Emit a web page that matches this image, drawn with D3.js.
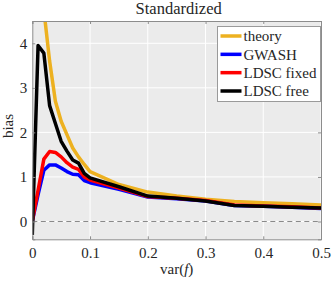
<!DOCTYPE html>
<html>
<head>
<meta charset="utf-8">
<script src="https://cdn.jsdelivr.net/npm/d3@7"></script>
<style>
	body { margin: 0; background: #fff; }
	svg text { font-family: "Liberation Serif", "DejaVu Serif", serif; fill: #262626; }
</style>
</head>
<body>
<svg id="chart" width="332" height="283"></svg>
<script>
//values
var varF = [0, 0.01, 0.02, 0.03, 0.04, 0.05, 0.06, 0.07, 0.08, 0.09, 0.1, 0.15, 0.2, 0.25, 0.3, 0.35, 0.4, 0.45, 0.5];
var theory = [null, 9.0, 4.75, 3.6, 2.7, 2.25, 1.95, 1.65, 1.45, 1.28, 1.12, 0.83, 0.66, 0.57, 0.5, 0.45, 0.42, 0.4, 0.37];
var gwash = [0, 0.6, 1.15, 1.27, 1.27, 1.2, 1.12, 1.06, 1.05, 0.92, 0.87, 0.72, 0.55, 0.51, 0.46, 0.36, 0.34, 0.32, 0.29];
var ldscFixed = [0, 0.7, 1.4, 1.57, 1.55, 1.45, 1.32, 1.22, 1.17, 1.0, 0.93, 0.75, 0.56, 0.52, 0.47, 0.37, 0.35, 0.33, 0.3];
var ldscFree = [-0.3, 3.95, 3.78, 2.6, 2.2, 1.8, 1.58, 1.38, 1.31, 1.08, 0.98, 0.78, 0.57, 0.52, 0.46, 0.36, 0.34, 0.32, 0.3];

var xTicks = [0, 0.1, 0.2, 0.3, 0.4, 0.5];
var yTicks = [0, 1, 2, 3, 4];

var seriesNames = ["theory", "GWASH", "LDSC fixed", "LDSC free"];
var seriesColors = ["#EDB120", "#0000FF", "#FF0000", "#000000"];
var seriesValues = [theory, gwash, ldscFixed, ldscFree];

var serif = "'Liberation Serif', 'DejaVu Serif', serif";
var svg = d3.select("#chart");

//plot box edges (window.top is taken, so no plain "top")
var boxLeft = 32.3, boxRight = 321, boxTop = 21, boxBottom = 239.3;

var x = d3.scaleLinear().domain([0, 0.5]).range([boxLeft, boxRight]);
var y = d3.scaleLinear().domain([-0.4, 4.5]).range([boxBottom, boxTop]);

//grey background
svg.append("rect")
	.attr("x", boxLeft)
	.attr("y", boxTop)
	.attr("width", boxRight - boxLeft)
	.attr("height", boxBottom - boxTop)
	.style("fill", "#EBEBEB");

//white grid
svg.append("g").selectAll("line").data(xTicks).enter().append("line")
	.attr("x1", function(d){ return x(d); })
	.attr("x2", function(d){ return x(d); })
	.attr("y1", boxTop).attr("y2", boxBottom)
	.style("stroke", "#fff").style("stroke-width", 1);
svg.append("g").selectAll("line").data(yTicks).enter().append("line")
	.attr("y1", function(d){ return y(d); })
	.attr("y2", function(d){ return y(d); })
	.attr("x1", boxLeft).attr("x2", boxRight)
	.style("stroke", "#fff").style("stroke-width", 1);

//zero reference
svg.append("line")
	.attr("x1", boxLeft).attr("x2", boxRight)
	.attr("y1", y(0)).attr("y2", y(0))
	.style("stroke", "#8a8a8a")
	.style("stroke-width", 1.2)
	.style("stroke-dasharray", "5,3.5");

svg.append("clipPath").attr("id", "plotClip")
	.append("rect")
	.attr("x", boxLeft).attr("y", boxTop)
	.attr("width", boxRight - boxLeft).attr("height", boxBottom - boxTop);

var line = d3.line()
	.defined(function(d){ return d[1] !== null; })
	.x(function(d){ return x(d[0]); })
	.y(function(d){ return y(d[1]); });

var lines = svg.append("g").attr("clip-path", "url(#plotClip)");
for(var i = 0; i < seriesValues.length; i++){
	var pts = varF.map(function(f, j){ return [f, seriesValues[i][j]]; });
	lines.append("path")
		.datum(pts)
		.attr("d", line)
		.style("fill", "none")
		.style("stroke", seriesColors[i])
		.style("stroke-width", 3.5)
		.style("stroke-linejoin", "round");
}

//axes, ticks pointing inwards, box on
var axisColor = "#8c8c8c";
var xAxis = svg.append("g")
	.attr("transform", "translate(0," + boxBottom + ")")
	.call(d3.axisBottom(x).tickValues(xTicks).tickSize(-3).tickPadding(8)
		.tickFormat(function(d){ return d === 0 ? "0" : d3.format(".1f")(d); }));
var xAxisTop = svg.append("g")
	.attr("transform", "translate(0," + boxTop + ")")
	.call(d3.axisTop(x).tickValues(xTicks).tickSize(-3).tickFormat(""));
var yAxis = svg.append("g")
	.attr("transform", "translate(" + boxLeft + ",0)")
	.call(d3.axisLeft(y).tickValues(yTicks).tickSize(-3).tickPadding(5).tickFormat(d3.format("d")));
var yAxisRight = svg.append("g")
	.attr("transform", "translate(" + boxRight + ",0)")
	.call(d3.axisRight(y).tickValues(yTicks).tickSize(-3).tickFormat(""));

[xAxis, xAxisTop, yAxis, yAxisRight].forEach(function(a){
	a.attr("font-family", serif).attr("font-size", 15);
	a.selectAll("path").style("stroke", axisColor);
	a.selectAll("line").style("stroke", axisColor);
	a.selectAll("text").style("fill", "#262626");
});

//title and axis labels
svg.append("text")
	.attr("x", (boxLeft + boxRight) / 2 + 2)
	.attr("y", 14)
	.attr("text-anchor", "middle")
	.style("font-size", "16.5px")
	.text("Standardized");

var xLabel = svg.append("text")
	.attr("x", (boxLeft + boxRight) / 2)
	.attr("y", 274)
	.attr("text-anchor", "middle")
	.style("font-size", "15px");
xLabel.append("tspan").text("var(");
xLabel.append("tspan").style("font-style", "italic").text("f");
xLabel.append("tspan").text(")");

svg.append("text")
	.attr("transform", "translate(12.5," + 126 + ") rotate(-90)")
	.attr("text-anchor", "middle")
	.style("font-size", "15px")
	.text("bias");

//legend
var legend = svg.append("g");
legend.append("rect")
	.attr("x", 217.5).attr("y", 26.5)
	.attr("width", 103).attr("height", 75)
	.style("fill", "#fff")
	.style("stroke", "#9a9a9a")
	.style("stroke-width", 1);

var rowY = d3.scalePoint().domain(seriesNames).range([36, 91]);
seriesNames.forEach(function(name, i){
	legend.append("line")
		.attr("x1", 220.5).attr("x2", 241.5)
		.attr("y1", rowY(name)).attr("y2", rowY(name))
		.style("stroke", seriesColors[i])
		.style("stroke-width", 3.5);
	legend.append("text")
		.attr("x", 243.5)
		.attr("y", rowY(name))
		.attr("dy", "0.35em")
		.style("font-size", "15px")
		.text(name);
});
</script>
</body>
</html>
